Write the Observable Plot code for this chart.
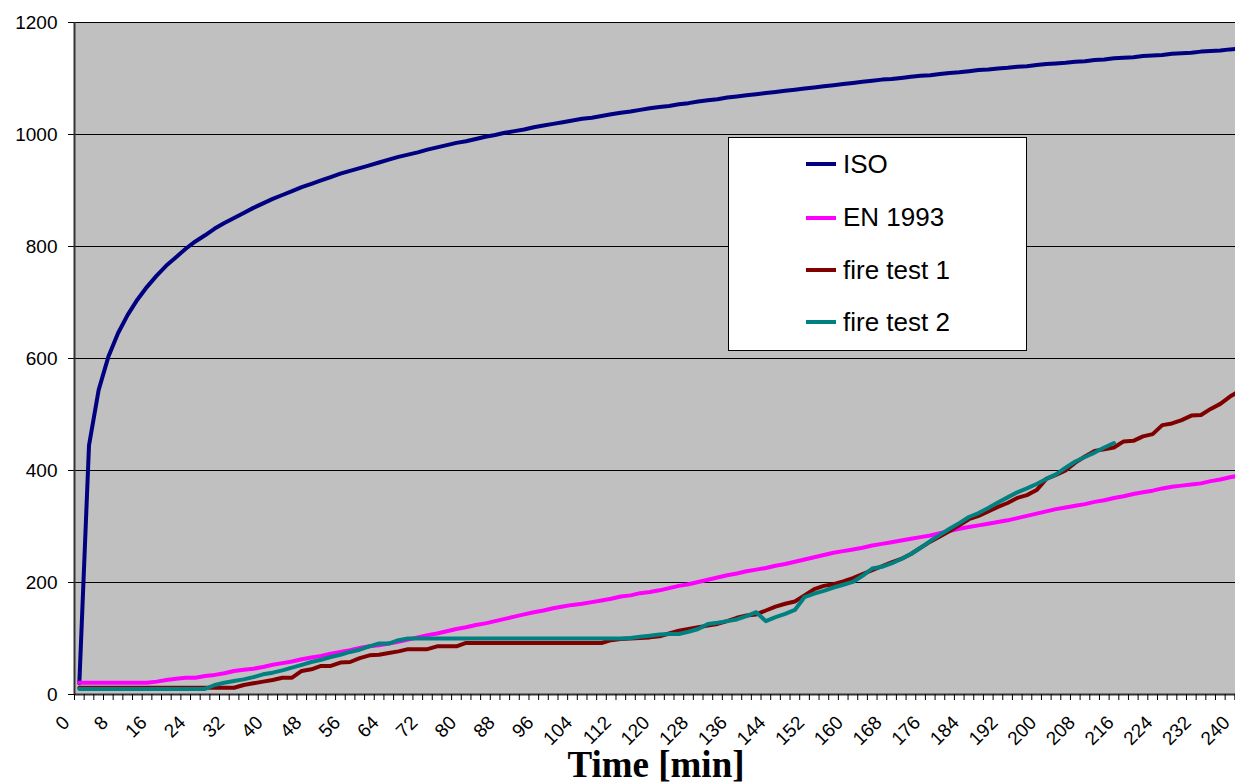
<!DOCTYPE html>
<html><head><meta charset="utf-8">
<script src="https://cdn.jsdelivr.net/npm/d3@7"></script>
<script src="https://cdn.jsdelivr.net/npm/@observablehq/plot@0.6"></script>
<style>
html,body{margin:0;padding:0;background:#fff;overflow:hidden;}
#wrap{position:relative;width:1235px;height:784px;overflow:hidden;font-family:"Liberation Sans",Arial,sans-serif;}
#chart{width:1244px;}
#chart svg{display:block;max-width:none !important;}
#title{position:absolute;left:74px;width:1164px;top:745px;text-align:center;font-family:"Liberation Serif","Times New Roman",serif;font-weight:bold;font-size:37px;line-height:40px;color:#000;}
#legend{position:absolute;left:728px;top:137px;width:297px;height:212px;border:1px solid #000;background:#fff;}
.item{position:absolute;left:77px;height:30px;display:flex;align-items:center;font-size:26px;color:#000;white-space:nowrap;}
.sw{width:30px;height:4px;margin-right:7px;}
</style></head>
<body><div id="wrap"><div id="chart"></div><div id="legend"></div><div id="title">Time [min]</div></div>
<script>
// Time categories (min)
const times = [0,2,4,6,8,10,12,14,16,18,20,22,24,26,28,30,32,34,36,38,40,42,44,46,48,50,52,54,56,58,60,62,64,66,68,70,72,74,76,78,80,82,84,86,88,90,92,94,96,98,100,102,104,106,108,110,112,114,116,118,120,122,124,126,128,130,132,134,136,138,140,142,144,146,148,150,152,154,156,158,160,162,164,166,168,170,172,174,176,178,180,182,184,186,188,190,192,194,196,198,200,202,204,206,208,210,212,214,216,218,220,222,224,226,228,230,232,234,236,238,240];

const iso = [20,445,544,603,645,678,705,728,748,766,
781,796,809,820,832,842,851,860,869,877,
885,892,899,906,912,918,924,930,935,940,
945,950,955,960,964,968,973,977,981,985,
988,992,996,999,1003,1006,1009,1013,1016,1019,
1022,1025,1028,1030,1033,1036,1039,1041,1044,1047,
1049,1051,1054,1056,1059,1061,1063,1066,1068,1070,
1072,1074,1076,1078,1080,1082,1084,1086,1088,1090,
1092,1094,1096,1098,1099,1101,1103,1105,1106,1108,
1110,1111,1113,1115,1116,1118,1119,1121,1122,1124,
1126,1127,1128,1130,1131,1133,1134,1136,1137,1138,
1140,1141,1142,1144,1145,1146,1148,1149,1150,1152,
1153];

const en1993 = [21,21,21,21,21,21,21,21,23,26,
28,30,30,33,35,38,42,44,46,49,
53,56,59,63,66,69,73,76,79,83,
86,88,91,94,98,102,106,109,113,117,
120,124,127,131,135,139,143,147,150,154,
157,160,162,165,168,171,175,177,181,183,
186,190,194,197,201,205,209,213,216,220,
223,226,230,233,237,241,245,249,253,256,
259,262,266,269,272,275,278,281,284,288,
292,296,299,302,305,308,311,315,319,323,
327,331,334,337,340,344,347,351,354,358,
361,364,368,371,373,375,377,381,384,388,
391];

const fireTest1 = [12,12,12,12,12,12,12,12,12,12,
12,12,12,12,12,12,12,17,20,23,
26,30,30,42,45,51,51,57,58,65,
70,71,74,77,81,81,81,86,86,86,
92,92,92,92,92,92,92,92,92,92,
92,92,92,92,92,97,99,100,101,102,
104,109,114,117,120,123,126,131,137,141,
143,150,157,162,166,177,188,194,197,202,
208,215,222,229,236,242,251,262,273,282,
292,302,313,319,327,335,342,351,356,365,
385,392,400,414,425,435,438,441,452,453,
461,465,481,484,490,498,499,510,519,532,
542];

const fireTest2 = [10,10,10,10,10,10,10,10,10,10,
10,10,10,10,17,21,24,27,31,36,
39,43,48,53,58,62,67,71,76,80,
86,91,91,97,100,100,100,100,100,100,
100,100,100,100,100,100,100,100,100,100,
100,100,100,100,100,100,100,101,103,105,
107,108,108,112,117,126,128,131,134,140,
147,131,138,144,151,174,180,185,191,196,
201,212,225,228,234,242,251,262,274,285,
296,306,317,324,333,343,352,361,368,376,
385,393,405,416,424,432,441,449];

const seriesNames = ["ISO", "EN 1993", "fire test 1", "fire test 2"];
const seriesColors = ["#000080", "#FF00FF", "#800000", "#008080"];
const yTicks = [0,200,400,600,800,1000,1200];
const xLabels = [0,8,16,24,32,40,48,56,64,72,80,88,96,104,112,120,128,136,144,152,160,168,176,184,192,200,208,216,224,232,240];

const seriesValues = [iso, en1993, fireTest1, fireTest2];
const rows = seriesNames.flatMap((name, s) => seriesValues[s].map((v, i) => ({t: times[i], v, series: name})));
// category band boundaries (Excel category axis ticks)
const bounds = d3.range(-1, 242, 2);

const plot = Plot.plot({
  width: 1244, height: 740,
  marginLeft: 74, marginRight: 0, marginTop: 22, marginBottom: 46,
  style: {background: "transparent", fontFamily: "'Liberation Sans', Arial, sans-serif", color: "#000", overflow: "visible", maxWidth: "none"},
  x: {type: "linear", domain: [-1, 241]},
  y: {domain: [0, 1200]},
  color: {domain: seriesNames, range: seriesColors},
  marks: [
    Plot.frame({fill: "#c0c0c0", stroke: "none"}),
    Plot.ruleY(yTicks.filter(d => d > 0), {stroke: "#000", strokeWidth: 1}),
    Plot.line(rows, {x: "t", y: "v", z: "series", stroke: "series", strokeWidth: 4, strokeLinejoin: "round"}),
    Plot.ruleX([-1], {stroke: "#333", strokeWidth: 2}),
    Plot.ruleY([0], {stroke: "#333", strokeWidth: 2}),
    Plot.axisY({ticks: yTicks, tickSize: 6, tickPadding: 11, fontSize: 19, label: null, tickFormat: d => String(d), stroke: "#000"}),
    Plot.axisX({ticks: bounds, tickSize: 6, tickFormat: () => "", label: null, stroke: "#000", strokeWidth: 1}),
    Plot.text(xLabels, {x: d => d, frameAnchor: "bottom", text: d => String(d), rotate: -45, textAnchor: "end", lineAnchor: "middle", fontSize: 19, fill: "#000", dx: -13, dy: 25})
  ]
});
document.getElementById("chart").appendChild(plot);

const legend = document.getElementById("legend");
const rowCenters = [26.3, 79.7, 132, 184.3];
seriesNames.forEach((name, i) => {
  const it = document.createElement("div");
  it.className = "item";
  it.style.top = (rowCenters[i] - 15) + "px";
  const sw = document.createElement("div");
  sw.className = "sw";
  sw.style.background = seriesColors[i];
  const tx = document.createElement("span");
  tx.textContent = name;
  it.appendChild(sw); it.appendChild(tx);
  legend.appendChild(it);
});
</script>
</body></html>
